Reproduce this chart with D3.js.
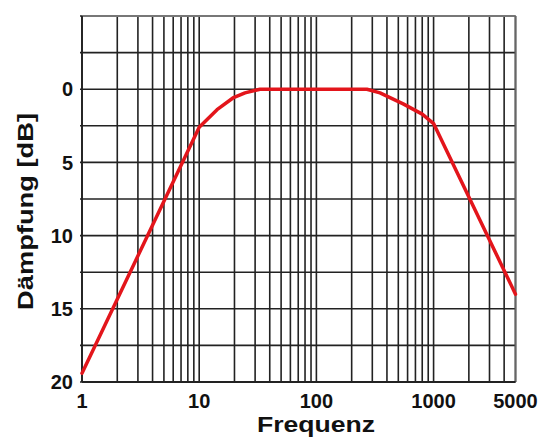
<!DOCTYPE html>
<html>
<head>
<meta charset="utf-8">
<script src="https://cdn.jsdelivr.net/npm/d3@7"></script>
<style>
  html, body { margin: 0; padding: 0; background: #fff; }
  svg { display: block; }
  text { font-family: "Liberation Sans", Arial, Helvetica, sans-serif; font-weight: bold; fill: #111; }
</style>
</head>
<body>
<svg id="chart" width="553" height="441"></svg>
<script>
// ---- data ----
const frequencies = [1, 10, 14.2, 19.4, 24.6, 33, 270, 349, 550, 800, 1000, 5000];
const attenuation = [19.4, 2.6, 1.4, 0.6, 0.25, 0, 0, 0.25, 1.0, 1.7, 2.35, 14.0];
const xTickLabels = [1, 10, 100, 1000, 5000];
const yTickLabels = [0, 5, 10, 15, 20];
const xGridValues = [];
[1, 10, 100].forEach(d => { for (let k = 1; k <= 9; k++) xGridValues.push(d * k); });
[1000, 2000, 3000, 4000, 5000].forEach(v => xGridValues.push(v));
const yGridValues = d3.range(-5, 20.01, 2.5);
const xTitle = "Frequenz";
const yTitle = "Dämpfung [dB]";

// ---- layout ----
const svg = d3.select("#chart");
const pLeft = 82, pRight = 515.5, pTop = 16, pBottom = 382;

const x = d3.scaleLog().domain([1, 5000]).range([pLeft, pRight]);
const y = d3.scaleLinear().domain([-5, 20]).range([pTop, pBottom]);

// grid
const grid = svg.append("g");
grid.selectAll("line.v").data(xGridValues).join("line")
  .attr("class", "v")
  .attr("x1", d => x(d)).attr("x2", d => x(d))
  .attr("y1", pTop).attr("y2", pBottom)
  .attr("stroke", "#222").attr("stroke-width", 1.6);
grid.selectAll("line.h").data(yGridValues).join("line")
  .attr("class", "h")
  .attr("x1", pLeft - 2).attr("x2", pRight)
  .attr("y1", d => y(d)).attr("y2", d => y(d))
  .attr("stroke", "#222").attr("stroke-width", 1.6);

// border (top/right lighter)
svg.append("line").attr("x1", pLeft).attr("x2", pRight).attr("y1", pTop).attr("y2", pTop)
  .attr("stroke", "#777").attr("stroke-width", 1.8);
svg.append("line").attr("x1", pRight).attr("x2", pRight).attr("y1", pTop).attr("y2", pBottom)
  .attr("stroke", "#666").attr("stroke-width", 1.8);
svg.append("line").attr("x1", pLeft).attr("x2", pLeft).attr("y1", pTop).attr("y2", pBottom)
  .attr("stroke", "#222").attr("stroke-width", 1.8);
svg.append("line").attr("x1", pLeft).attr("x2", pRight).attr("y1", pBottom).attr("y2", pBottom)
  .attr("stroke", "#222").attr("stroke-width", 1.8);

// curve
const pts = frequencies.map((f, i) => [f, attenuation[i]]);
const line = d3.line().x(d => x(d[0])).y(d => y(d[1]));
svg.append("path").datum(pts)
  .attr("d", line)
  .attr("fill", "none")
  .attr("stroke", "#e3151b")
  .attr("stroke-width", 3.5)
  .attr("stroke-linejoin", "round")
  .attr("stroke-linecap", "round");

// tick labels
svg.selectAll("text.xt").data(xTickLabels).join("text")
  .attr("class", "xt")
  .attr("x", d => x(d)).attr("y", 408)
  .attr("text-anchor", "middle")
  .attr("font-size", 20)
  .text(d => d);
svg.selectAll("text.yt").data(yTickLabels).join("text")
  .attr("class", "yt")
  .attr("x", 73).attr("y", d => y(d))
  .attr("dy", "0.36em")
  .attr("text-anchor", "end")
  .attr("font-size", 20)
  .text(d => d);

// titles
svg.append("text")
  .attr("x", 316).attr("y", 432)
  .attr("text-anchor", "middle")
  .attr("font-size", 22)
  .attr("textLength", 118).attr("lengthAdjust", "spacingAndGlyphs")
  .attr("fill", "#000")
  .text(xTitle);
svg.append("text")
  .attr("transform", "translate(33,211.5) rotate(-90)")
  .attr("text-anchor", "middle")
  .attr("font-size", 22)
  .attr("textLength", 197).attr("lengthAdjust", "spacingAndGlyphs")
  .attr("fill", "#000")
  .text(yTitle);
</script>
</body>
</html>
